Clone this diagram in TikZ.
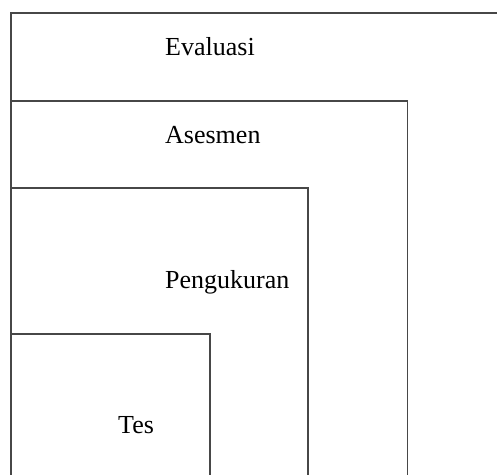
\documentclass[tikz,border=0pt]{standalone}
\usepackage{fontspec}
\setmainfont{Liberation Serif}
\begin{document}
\begin{tikzpicture}[x=1pt,y=-1pt,
  frame/.style={draw=black!72,line width=1.3pt},
  lbl/.style={anchor=base west,inner sep=0pt,font=\fontsize{26}{30}\selectfont}]
\useasboundingbox (0,0) rectangle (497,474);
\clip (0,0) rectangle (497,474);
% nested frames, all sharing the left edge and open at the bottom
\draw[frame] (11,480) -- (11,13) -- (505,13);
\draw[frame] (11,101) -- (407.5,101) -- (407.5,480);
\draw[frame] (11,188) -- (308,188) -- (308,480);
\draw[frame] (11,334) -- (210,334) -- (210,480);
% level labels
\node[lbl] (eval) at (165,55.5) {Evaluasi};
\node[lbl] (ases) at (165,143.5) {Asesmen};
\node[lbl] (ukur) at (165,288.5) {Pengukuran};
\node[lbl] (tes)  at (118,433) {Tes};
\end{tikzpicture}
\end{document}
